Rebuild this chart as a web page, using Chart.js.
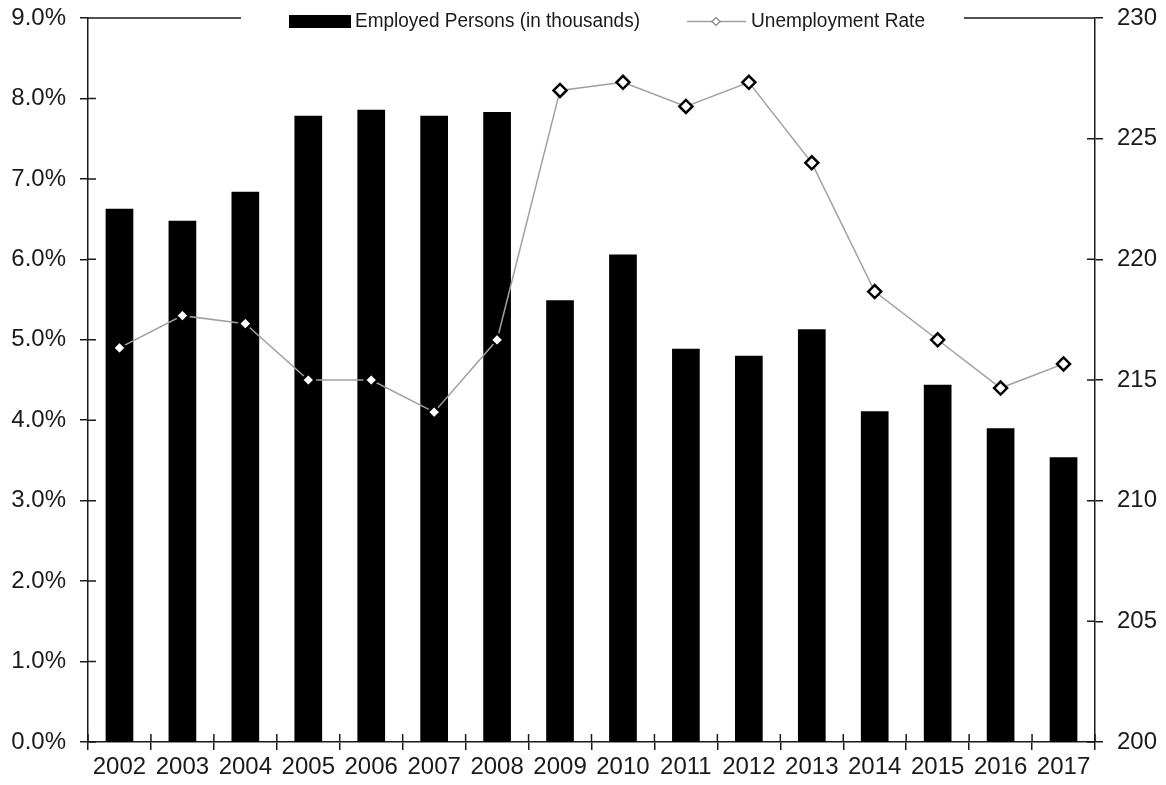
<!DOCTYPE html>
<html>
<head>
<meta charset="utf-8">
<title>Employed Persons and Unemployment Rate</title>
<script src="https://cdn.jsdelivr.net/npm/chart.js@4.4.1/dist/chart.umd.min.js"></script>
<style>
  body { margin: 0; background: #fff; }
  #wrap { width: 1166px; height: 785px; position: relative; }
</style>
</head>
<body>
<div id="wrap"><canvas id="chart"></canvas></div>
<script>
// Chart data
const years = ['2002', '2003', '2004', '2005', '2006', '2007', '2008', '2009',
               '2010', '2011', '2012', '2013', '2014', '2015', '2016', '2017'];
const employed = [222.1, 221.6, 222.8, 225.95, 226.2, 225.95, 226.1, 218.3,
                  220.2, 216.3, 216.0, 217.1, 213.7, 214.8, 213.0, 211.8]; // thousands
const unemploymentRate = [4.9, 5.3, 5.2, 4.5, 4.5, 4.1, 5.0, 8.1,
                          8.2, 7.9, 8.2, 7.2, 5.6, 5.0, 4.4, 4.7]; // percent
const leftTicks = { min: 0, max: 9, step: 1 };
const rightTicks = { min: 200, max: 230, step: 5 };

const FONT = 'Liberation Sans, Arial, sans-serif';
const INK = '#1a1a1a';

// keep the plot area where the reference has it
function fixBox(w, h) {
  return s => {
    if (w) s.width = w;
    if (h) s.height = h;
    s.paddingTop = 0; s.paddingBottom = 0;
    s.paddingLeft = 0; s.paddingRight = 0;
  };
}

// Ticks that cross the axes, the top border and the legend over it
const frameAndLegend = {
  id: 'frameAndLegend',
  afterDraw(chart) {
    const ctx = chart.ctx;
    const area = chart.chartArea;
    const yL = chart.scales.y, yR = chart.scales.y1;
    ctx.save();
    ctx.strokeStyle = INK;
    ctx.lineWidth = 1.5;
    ctx.beginPath();
    // inner halves of the tick marks
    yL.ticks.forEach(t => {
      const py = yL.getPixelForValue(t.value);
      ctx.moveTo(area.left, py); ctx.lineTo(area.left + 8, py);
    });
    yR.ticks.forEach(t => {
      const py = yR.getPixelForValue(t.value);
      ctx.moveTo(area.right, py); ctx.lineTo(area.right - 8, py);
    });
    const n = years.length;
    for (let i = 0; i <= n; i++) {
      const px = area.left + i * (area.right - area.left) / n;
      ctx.moveTo(px, area.bottom); ctx.lineTo(px, area.bottom - 8);
    }
    // top border
    ctx.moveTo(area.left, area.top); ctx.lineTo(area.right, area.top);
    ctx.stroke();

    // legend box
    const cy = area.top + 3.5;
    ctx.fillStyle = '#fff';
    ctx.fillRect(241, cy - 15, 723, 28);
    ctx.fillStyle = '#000';
    ctx.fillRect(289, cy - 6.5, 62, 13);
    ctx.fillStyle = INK;
    ctx.font = '19.5px ' + FONT;
    ctx.textBaseline = 'middle';
    ctx.textAlign = 'left';
    ctx.fillText('Employed Persons (in thousands)', 355, cy, 285);
    ctx.strokeStyle = '#a0a0a0';
    ctx.lineWidth = 1.5;
    ctx.beginPath();
    ctx.moveTo(687, cy); ctx.lineTo(746, cy);
    ctx.stroke();
    ctx.beginPath();
    ctx.moveTo(712, cy); ctx.lineTo(716, cy - 4); ctx.lineTo(720, cy); ctx.lineTo(716, cy + 4);
    ctx.closePath();
    ctx.fillStyle = '#fff';
    ctx.fill();
    ctx.strokeStyle = '#333';
    ctx.lineWidth = 1;
    ctx.stroke();
    ctx.fillStyle = INK;
    ctx.fillText('Unemployment Rate', 751, cy, 174);
    ctx.restore();
  }
};

const ctx = document.getElementById('chart').getContext('2d');
const chart = new Chart(ctx, {
  data: {
    labels: years,
    datasets: [
      {
        type: 'line',
        label: 'Unemployment Rate',
        data: unemploymentRate,
        yAxisID: 'y',
        borderColor: '#a0a0a0',
        borderWidth: 1.5,
        tension: 0,
        pointStyle: 'rectRot',
        pointRadius: 6.5,
        pointHoverRadius: 6.5,
        pointBorderWidth: 2.5,
        pointBorderColor: '#000',
        pointBackgroundColor: '#fff',
        order: 0
      },
      {
        type: 'bar',
        label: 'Employed Persons (in thousands)',
        data: employed,
        yAxisID: 'y1',
        backgroundColor: '#000',
        borderWidth: 0,
        barPercentage: 0.44,
        categoryPercentage: 1.0,
        order: 1
      }
    ]
  },
  options: {
    responsive: true,
    maintainAspectRatio: false,
    animation: false,
    layout: { padding: { top: 18, left: 0, right: 0, bottom: 0 } },
    plugins: {
      legend: { display: false },
      tooltip: { enabled: false }
    },
    scales: {
      x: {
        offset: true,
        grid: { display: true, drawOnChartArea: false, offset: true, tickLength: 8, color: INK, lineWidth: 1.5 },
        border: { display: true, color: INK, width: 1.5 },
        ticks: { color: INK, font: { family: FONT, size: 24 }, padding: 3, maxRotation: 0, autoSkip: false },
        afterFit: fixBox(0, 43)
      },
      y: {
        position: 'left',
        min: leftTicks.min,
        max: leftTicks.max,
        grid: { drawOnChartArea: false, tickLength: 8, color: INK, lineWidth: 1.5 },
        border: { display: true, color: INK, width: 1.5 },
        ticks: {
          stepSize: leftTicks.step,
          color: INK,
          font: { family: FONT, size: 24 },
          padding: 14,
          callback: v => v.toFixed(1) + '%'
        },
        afterFit: fixBox(88, 0)
      },
      y1: {
        position: 'right',
        min: rightTicks.min,
        max: rightTicks.max,
        grid: { drawOnChartArea: false, tickLength: 8, color: INK, lineWidth: 1.5 },
        border: { display: true, color: INK, width: 1.5 },
        ticks: {
          stepSize: rightTicks.step,
          color: INK,
          font: { family: FONT, size: 24 },
          padding: 14
        },
        afterFit: fixBox(71, 0)
      }
    }
  },
  plugins: [frameAndLegend]
});
</script>
</body>
</html>
